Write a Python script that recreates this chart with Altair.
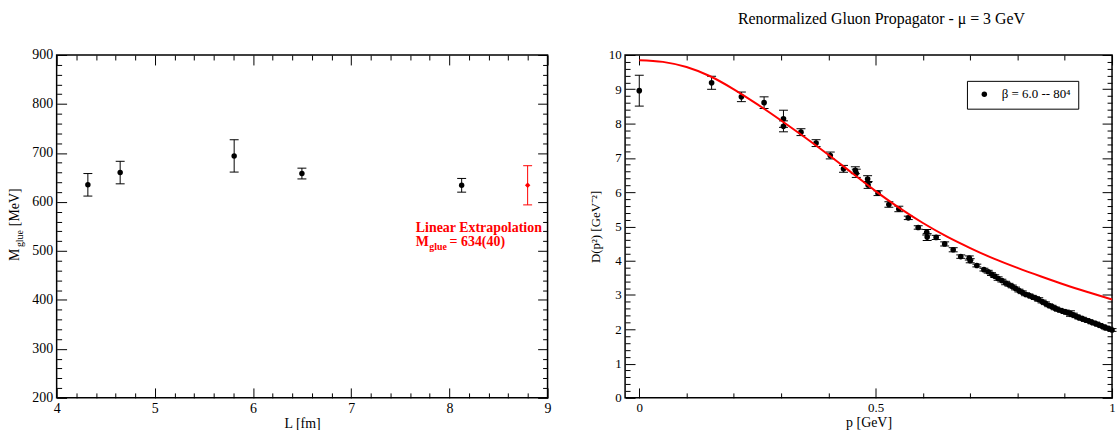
import altair as alt
import pandas as pd

SERIF = "Liberation Serif"

# ---------------- left panel data ----------------
L_FM = [4.318, 4.647, 5.808, 6.498, 8.125]
M_GLUE = [635, 660, 694, 658, 634]
M_ERR = [23, 23, 33, 11, 14]
L_EXTRAP = [8.797]
M_EXTRAP = [634]
M_EXTRAP_ERR = [40]
ANNOT_LINE1 = "Linear Extrapolation"
ANNOT_M = "M"
ANNOT_SUB = "glue"
ANNOT_VAL = "= 634(40)"

LX_MAJOR = [4, 5, 6, 7, 8, 9]
LX_MINOR = [round(4 + 0.2 * i, 1) for i in range(26) if i % 5]
LY_MAJOR = [200, 300, 400, 500, 600, 700, 800, 900]
LY_MINOR = [200 + 20 * i for i in range(36) if i % 5]

# ---------------- right panel data ----------------
P_GEV = [0.000, 0.153, 0.216, 0.264, 0.305, 0.305, 0.342, 0.374, 0.404, 0.432,
         0.457, 0.459, 0.483, 0.484, 0.505, 0.528, 0.549, 0.569, 0.590, 0.608,
         0.609, 0.628, 0.646, 0.664, 0.680, 0.698, 0.700, 0.714, 0.729, 0.738,
         0.745, 0.752, 0.759, 0.767, 0.775, 0.782, 0.789, 0.796, 0.803, 0.810,
         0.817, 0.824, 0.831, 0.838, 0.845, 0.852, 0.859, 0.866, 0.873, 0.880,
         0.887, 0.894, 0.901, 0.906, 0.912, 0.918, 0.924, 0.930, 0.937, 0.944,
         0.951, 0.958, 0.965, 0.972, 0.979, 0.986, 0.993, 1.000]
D_PROP = [8.96, 9.19, 8.78, 8.61, 8.14, 7.92, 7.75, 7.43, 7.07, 6.68,
          6.64, 6.55, 6.38, 6.21, 5.97, 5.64, 5.51, 5.25, 4.97, 4.83,
          4.69, 4.68, 4.49, 4.32, 4.12, 4.08, 4.00, 3.86, 3.74, 3.68,
          3.61, 3.55, 3.48, 3.42, 3.35, 3.30, 3.25, 3.19, 3.13, 3.08,
          3.02, 2.99, 2.95, 2.91, 2.87, 2.81, 2.76, 2.70, 2.66, 2.61,
          2.57, 2.54, 2.51, 2.48, 2.46, 2.42, 2.38, 2.34, 2.31, 2.27,
          2.24, 2.20, 2.17, 2.13, 2.09, 2.05, 2.02, 1.98]
D_ERR = [0.45, 0.19, 0.14, 0.17, 0.25, 0.16, 0.10, 0.10, 0.10, 0.10,
         0.10, 0.12, 0.10, 0.10, 0.07, 0.08, 0.08, 0.05, 0.05, 0.08,
         0.10, 0.06, 0.06, 0.06, 0.05, 0.06, 0.06, 0.04, 0.04, 0.04,
         0.04, 0.04, 0.05, 0.04, 0.05, 0.04, 0.04, 0.04, 0.04, 0.04,
         0.04, 0.04, 0.04, 0.04, 0.05, 0.04, 0.04, 0.04, 0.04, 0.04,
         0.04, 0.04, 0.05, 0.04, 0.08, 0.05, 0.04, 0.04, 0.04, 0.04,
         0.04, 0.04, 0.04, 0.04, 0.04, 0.04, 0.04, 0.04]
FIT_P = [0.0, 0.05, 0.1, 0.15, 0.2, 0.25, 0.3, 0.35, 0.4, 0.45, 0.5,
         0.55, 0.6, 0.65, 0.7, 0.75, 0.8, 0.85, 0.9, 0.95, 1.0]
FIT_D = [9.85, 9.80, 9.65, 9.38, 9.00, 8.56, 8.09, 7.60, 7.09, 6.56, 6.03,
         5.54, 5.10, 4.71, 4.37, 4.06, 3.79, 3.54, 3.30, 3.08, 2.87]
LEGEND_LABEL = "β = 6.0 -- 80⁴"
TITLE = "Renormalized Gluon Propagator - μ = 3 GeV"

RX_MAJOR = [0, 0.5, 1]
RX_MINOR = [0.1, 0.2, 0.3, 0.4, 0.6, 0.7, 0.8, 0.9]
RY_MAJOR = list(range(0, 11))
RY_MINOR = [round(0.2 * i, 1) for i in range(51) if i % 5]

MAJ, MIN = 10, 5


def ax(orient, values, size, labels=False, title=None, fmt=None, lsize=14, tpad=4, tsize=14):
    kw = dict(orient=orient, values=values, tickSize=size, offset=-size,
              domain=False, grid=False, ticks=True, tickColor="black",
              tickWidth=1, labels=labels, title=title)
    if labels:
        kw.update(labelFont=SERIF, labelFontSize=lsize, labelColor="black",
                  labelPadding=4, labelFlush=False, labelOverlap=False)
        if fmt:
            kw["format"] = fmt
    if title:
        kw.update(titleFont=SERIF, titleFontSize=tsize, titleFontWeight="normal",
                  titleColor="black", titlePadding=tpad)
    return alt.Axis(**kw)


# ---------------- left panel ----------------
dfL = pd.DataFrame({"L": L_FM, "M": M_GLUE, "err": M_ERR})
dfL["lo"] = dfL["M"] - dfL["err"]
dfL["hi"] = dfL["M"] + dfL["err"]
dfE = pd.DataFrame({"L": L_EXTRAP, "M": M_EXTRAP, "err": M_EXTRAP_ERR})
dfE["lo"] = dfE["M"] - dfE["err"]
dfE["hi"] = dfE["M"] + dfE["err"]

xsL = alt.Scale(domain=[4, 9], nice=False, zero=False)
ysL = alt.Scale(domain=[200, 900], nice=False, zero=False)

l_err = alt.Chart(dfL).mark_rule(color="black", strokeWidth=1).encode(
    x=alt.X("L:Q", scale=xsL, axis=ax("bottom", LX_MAJOR, MAJ, True, "L  [fm]", "d", 14, 1)),
    y=alt.Y("lo:Q", scale=ysL, axis=ax("left", LY_MAJOR, MAJ, True, None, "d", 14)),
    y2="hi:Q")
l_cap_lo = alt.Chart(dfL).mark_tick(orient="horizontal", size=9, thickness=1,
                                    color="black", opacity=1).encode(
    x=alt.X("L:Q", scale=xsL, axis=ax("bottom", LX_MINOR, MIN)),
    y=alt.Y("lo:Q", scale=ysL, axis=ax("left", LY_MINOR, MIN)))
l_cap_hi = alt.Chart(dfL).mark_tick(orient="horizontal", size=9, thickness=1,
                                    color="black", opacity=1).encode(
    x=alt.X("L:Q", scale=xsL, axis=ax("top", LX_MAJOR, MAJ)),
    y=alt.Y("hi:Q", scale=ysL, axis=ax("right", LY_MAJOR, MAJ)))
l_dot = alt.Chart(dfL).mark_circle(size=30, color="black", opacity=1).encode(
    x=alt.X("L:Q", scale=xsL, axis=ax("top", LX_MINOR, MIN)),
    y=alt.Y("M:Q", scale=ysL, axis=ax("right", LY_MINOR, MIN)))

e_err = alt.Chart(dfE).mark_rule(color="red", strokeWidth=1).encode(
    x=alt.X("L:Q", scale=xsL, axis=None),
    y=alt.Y("lo:Q", scale=ysL, axis=None), y2="hi:Q")
e_cap_lo = alt.Chart(dfE).mark_tick(orient="horizontal", size=9, thickness=1,
                                    color="red", opacity=1).encode(
    x=alt.X("L:Q", scale=xsL, axis=None), y=alt.Y("lo:Q", scale=ysL, axis=None))
e_cap_hi = alt.Chart(dfE).mark_tick(orient="horizontal", size=9, thickness=1,
                                    color="red", opacity=1).encode(
    x=alt.X("L:Q", scale=xsL, axis=None), y=alt.Y("hi:Q", scale=ysL, axis=None))
e_dot = alt.Chart(dfE).mark_point(shape="diamond", filled=True, size=30,
                                  color="red", opacity=1).encode(
    x=alt.X("L:Q", scale=xsL, axis=None), y=alt.Y("M:Q", scale=ysL, axis=None))


def ann_text(txt, y, size, dx=0, dy=0):
    d = pd.DataFrame({"x": [7.658], "y": [y], "t": [txt]})
    return alt.Chart(d).mark_text(color="red", font=SERIF, fontWeight="bold",
                                  fontSize=size, align="left", baseline="alphabetic",
                                  dx=dx, dy=dy).encode(
        x=alt.X("x:Q", scale=xsL, axis=None), y=alt.Y("y:Q", scale=ysL, axis=None),
        text="t:N")


ann1 = ann_text(ANNOT_LINE1, 539.5, 14)
ann2 = ann_text(ANNOT_M, 510.5, 14)
ann3 = ann_text(ANNOT_SUB, 510.5, 10, dx=13.5, dy=4)
ann4 = ann_text(ANNOT_VAL, 510.5, 14, dx=34)

one = pd.DataFrame({"k": [0]})
yt_M = alt.Chart(one).mark_text(angle=270, align="left", baseline="alphabetic",
                                font=SERIF, fontSize=14, color="black").encode(
    x=alt.value(-37.7), y=alt.value(207.3), text=alt.value("M"))
yt_sub = alt.Chart(one).mark_text(angle=270, align="left", baseline="alphabetic",
                                  font=SERIF, fontSize=10, color="black").encode(
    x=alt.value(-34.0), y=alt.value(193.3), text=alt.value("glue"))
yt_unit = alt.Chart(one).mark_text(angle=270, align="left", baseline="alphabetic",
                                   font=SERIF, fontSize=14, color="black").encode(
    x=alt.value(-37.7), y=alt.value(172.3), text=alt.value("[MeV]"))

left = alt.layer(l_err, l_cap_lo, l_cap_hi, l_dot, e_err, e_cap_lo, e_cap_hi, e_dot,
                 ann1, ann2, ann3, ann4, yt_M, yt_sub, yt_unit).resolve_axis(
    x="independent", y="independent").properties(
    width=494, height=345,
    title=alt.TitleParams(" ", font=SERIF, fontSize=16, fontWeight="normal", offset=22))

# ---------------- right panel ----------------
dfR = pd.DataFrame({"p": P_GEV, "D": D_PROP, "err": D_ERR})
dfR["lo"] = dfR["D"] - dfR["err"]
dfR["hi"] = dfR["D"] + dfR["err"]
dfR["series"] = LEGEND_LABEL
dfF = pd.DataFrame({"p": FIT_P, "D": FIT_D})

xsR = alt.Scale(domain=[-0.03, 1.0], nice=False, zero=False)
ysR = alt.Scale(domain=[0, 10], nice=False, zero=False)

r_err = alt.Chart(dfR).mark_rule(color="black", strokeWidth=1).encode(
    x=alt.X("p:Q", scale=xsR, axis=ax("bottom", RX_MAJOR, MAJ, True, "p  [GeV]", "~g", 13, 1, 14)),
    y=alt.Y("lo:Q", scale=ysR, axis=ax("left", RY_MAJOR, MAJ, True, "D(p²)  [GeV⁻²]", "d", 13, 6, 13)),
    y2="hi:Q")
r_cap_lo = alt.Chart(dfR).mark_tick(orient="horizontal", size=9, thickness=1,
                                    color="black", opacity=1).encode(
    x=alt.X("p:Q", scale=xsR, axis=ax("bottom", RX_MINOR, MIN)),
    y=alt.Y("lo:Q", scale=ysR, axis=ax("left", RY_MINOR, MIN)))
r_cap_hi = alt.Chart(dfR).mark_tick(orient="horizontal", size=9, thickness=1,
                                    color="black", opacity=1).encode(
    x=alt.X("p:Q", scale=xsR, axis=ax("top", RX_MAJOR, MAJ)),
    y=alt.Y("hi:Q", scale=ysR, axis=ax("right", RY_MAJOR, MAJ)))
r_dot = alt.Chart(dfR).mark_circle(size=32, opacity=1).encode(
    x=alt.X("p:Q", scale=xsR, axis=ax("top", RX_MINOR, MIN)),
    y=alt.Y("D:Q", scale=ysR, axis=ax("right", RY_MINOR, MIN)),
    color=alt.Color("series:N", scale=alt.Scale(domain=[LEGEND_LABEL], range=["black"]),
                    legend=alt.Legend(orient="none", legendX=344, legendY=26, title=None,
                                      strokeColor="black", fillColor="white", padding=7,
                                      labelFont=SERIF, labelFontSize=13, labelColor="black",
                                      symbolType="circle", symbolSize=30,
                                      symbolOffset=4, labelOffset=11)))
r_fit = alt.Chart(dfF).mark_line(color="red", strokeWidth=2, interpolate="monotone").encode(
    x=alt.X("p:Q", scale=xsR, axis=None), y=alt.Y("D:Q", scale=ysR, axis=None))

right = alt.layer(r_err, r_cap_lo, r_cap_hi, r_dot, r_fit).resolve_axis(
    x="independent", y="independent").properties(
    width=490, height=345,
    title=alt.TitleParams(TITLE, font=SERIF, fontSize=16, fontWeight="normal",
                          color="black", anchor="middle", dx=13, offset=22))

chart = alt.hconcat(left, right, spacing=36).resolve_legend(color="independent").properties(
    padding={"left": 7, "top": 8, "right": 0, "bottom": 0}
).configure_view(stroke="black", strokeWidth=1.5)

chart.save("out.html", embed_options={"renderer": "svg", "actions": False})
